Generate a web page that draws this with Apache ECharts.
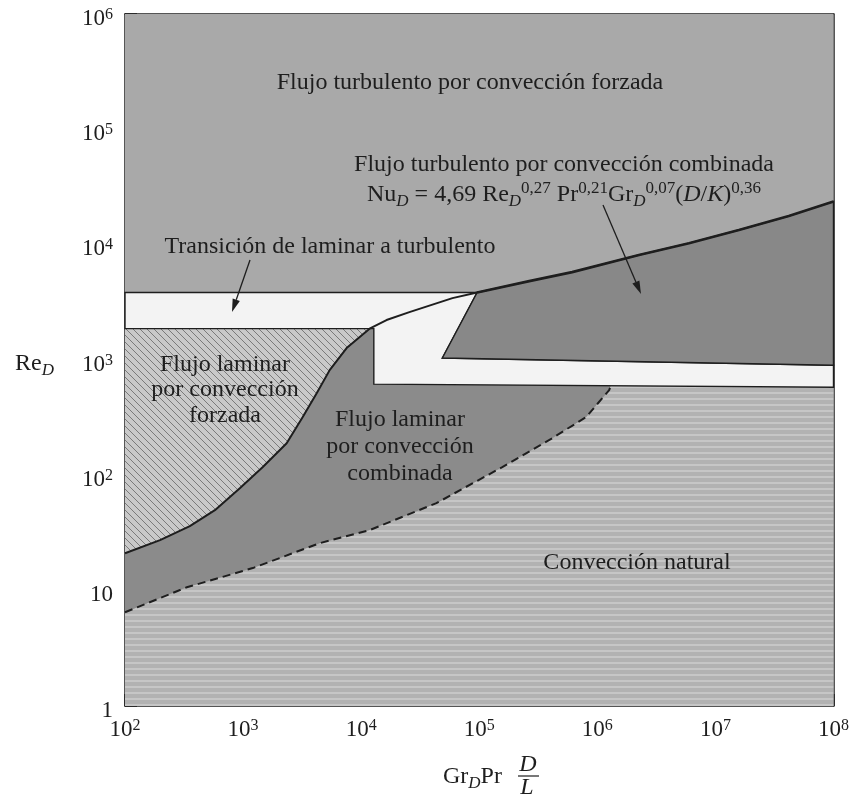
<!DOCTYPE html>
<html>
<head>
<meta charset="utf-8">
<script src="https://cdn.jsdelivr.net/npm/echarts@6/dist/echarts.min.js"></script>
<style>
  html, body { margin: 0; padding: 0; background: #fff; }
  #chart { width: 852px; height: 809px; }
</style>
</head>
<body>
<div id="chart"></div>
<script>
// boundaries, as [Gr_D Pr D/L, Re_D]
const laminarCurve = [[100, 21.1], [198, 27.4], [354, 36.3], [577, 49.9], [938, 77.4], [1469, 118],
  [2339, 190], [3200, 320], [4200, 516], [5410, 817], [7530, 1268], [11780, 1870]]
const transitionCurve = [[11780, 1870], [16400, 2220], [25600, 2600], [59300, 3440], [96000, 3850]]
const turbulentCurve = [[96000, 3850], [265000, 4830], [612000, 5780], [2.25e6, 8130], [5.97e6, 10300],
  [1.58e7, 13400], [4.18e7, 17700], [1e8, 23700]]
const naturalCurve = [[100, 6.5], [334, 10.7], [1208, 15.7], [4450, 25.8], [11780, 33.5], [43400, 57.4],
  [156700, 118], [415000, 210], [804000, 320], [1.26e6, 548], [1.3e6, 600]]
const bandTop = [[100, 3850], [96000, 3850]]
const turbulentBottom = [[48700, 1040], [1e8, 900]]
const bandBottom = [[1e8, 580], [12800, 618]]
const bandStep = [[12800, 618], [12800, 1870], [100, 1870]]
const plotCorners = [[100, 1], [1e8, 1], [1e8, 1e6], [100, 1e6]]

const serif = "'Liberation Serif', 'DejaVu Serif', serif"
const ink = '#1e1e1e'

// textures
function hatchTile () {
  const s = 7
  const c = document.createElement('canvas')
  c.width = s; c.height = s
  const g = c.getContext('2d')
  g.fillStyle = '#c9c9c9'
  g.fillRect(0, 0, s, s)
  g.strokeStyle = '#7a7a7a'
  g.lineWidth = 1
  g.beginPath()
  g.moveTo(-1, -1); g.lineTo(s + 1, s + 1)
  g.moveTo(s - 1, -1); g.lineTo(s + 1, 1)
  g.moveTo(-1, s - 1); g.lineTo(1, s + 1)
  g.stroke()
  return c
}
function stripeTile () {
  const c = document.createElement('canvas')
  c.width = 24; c.height = 6
  const g = c.getContext('2d')
  g.fillStyle = '#b2b2b2'
  g.fillRect(0, 0, 24, 6)
  g.fillStyle = '#c6c6c6'
  g.fillRect(0, 2, 24, 2)
  return c
}

const rev = a => a.slice().reverse()
const regions = [
  { pts: plotCorners, fill: '#a9a9a9' },
  { pts: [[100, 1], [1e8, 1], bandBottom[0], ...rev(naturalCurve)], fill: { image: stripeTile(), repeat: 'repeat' } },
  { pts: [...laminarCurve, [100, 1870]], fill: { image: hatchTile(), repeat: 'repeat' } },
  { pts: [...laminarCurve, [12800, 1870], [12800, 618], ...rev(naturalCurve)], fill: '#8b8b8b' },
  { pts: [...bandTop, ...turbulentBottom, ...bandBottom, ...bandStep.slice(1)], fill: '#f3f3f3', stroke: ink, lw: 1.4 },
  { pts: [...turbulentCurve, ...rev(turbulentBottom)], fill: '#888888', stroke: ink, lw: 1.4 }
]

const tickRich = {
  b: { fontSize: 23, fontFamily: serif, color: ink, lineHeight: 24 },
  s: { fontSize: 16, fontFamily: serif, color: ink, lineHeight: 17, verticalAlign: 'top' }
}
const pow = v => Math.round(Math.log10(v))

const rich = {
  n: { fontSize: 24, fontFamily: serif, fill: ink, color: ink, lineHeight: 30 },
  it: { fontSize: 24, fontFamily: serif, fontStyle: 'italic', fill: ink, color: ink, lineHeight: 30 },
  sub: { fontSize: 17, fontFamily: serif, fontStyle: 'italic', fill: ink, color: ink, lineHeight: 18, verticalAlign: 'bottom' },
  sup: { fontSize: 17, fontFamily: serif, fill: ink, color: ink, lineHeight: 16, verticalAlign: 'top' }
}

function label (x, y, text, align) {
  return {
    type: 'text', x, y, silent: true, z: 100,
    style: {
      text, rich, fill: ink, font: '24px ' + serif,
      align: align || 'center', verticalAlign: 'middle',
      textAlign: align || 'center', textVerticalAlign: 'middle'
    }
  }
}

function arrow (x1, y1, x2, y2) {
  const dx = x2 - x1, dy = y2 - y1
  const len = Math.sqrt(dx * dx + dy * dy)
  const ux = dx / len, uy = dy / len
  const bx = x2 - 13 * ux, by = y2 - 13 * uy
  return [
    { type: 'line', silent: true, z: 100, shape: { x1, y1, x2: bx, y2: by }, style: { stroke: ink, lineWidth: 1.3 } },
    { type: 'polygon', silent: true, z: 100,
      shape: { points: [[x2, y2], [bx + 3.8 * uy, by - 3.8 * ux], [bx - 3.8 * uy, by + 3.8 * ux]] },
      style: { fill: ink } }
  ]
}

const chart = echarts.init(document.getElementById('chart'))

chart.setOption({
  animation: false,
  grid: { left: 125, right: 17, top: 14, bottom: 103 },
  xAxis: [{
    type: 'log', logBase: 10, min: 100, max: 1e8,
    axisLine: { show: true, lineStyle: { color: ink, width: 1.5 } },
    axisTick: { show: true, inside: true, length: 12, lineStyle: { color: ink, width: 1.5 } },
    splitLine: { show: false },
    axisLabel: { margin: 12, formatter: v => '{b|10}{s|' + pow(v) + '}', rich: tickRich }
  }, {
    type: 'log', logBase: 10, min: 100, max: 1e8, position: 'top',
    axisLine: { show: true, onZero: false, lineStyle: { color: ink, width: 1.5 } },
    axisTick: { show: false }, axisLabel: { show: false }, splitLine: { show: false }
  }],
  yAxis: [{
    type: 'log', logBase: 10, min: 1, max: 1e6,
    axisLine: { show: true, lineStyle: { color: ink, width: 1.5 } },
    axisTick: { show: true, inside: true, length: 12, lineStyle: { color: ink, width: 1.5 } },
    splitLine: { show: false },
    axisLabel: {
      margin: 12,
      padding: [9, 0, 0, 0],
      formatter: v => {
        const e = pow(v)
        if (e === 0) return '{b|1}'
        if (e === 1) return '{b|10}'
        return '{b|10}{s|' + e + '}'
      },
      rich: tickRich
    }
  }, {
    type: 'log', logBase: 10, min: 1, max: 1e6, position: 'right',
    axisLine: { show: true, onZero: false, lineStyle: { color: ink, width: 1.5 } },
    axisTick: { show: false }, axisLabel: { show: false }, splitLine: { show: false }
  }],
  series: [
    {
      type: 'custom',
      silent: true,
      data: regions.map(r => r.pts[0]),
      renderItem: (params, api) => {
        const r = regions[params.dataIndex]
        return {
          type: 'polygon',
          shape: { points: r.pts.map(p => api.coord(p)) },
          style: { fill: r.fill, stroke: r.stroke || null, lineWidth: r.lw || 0 }
        }
      }
    },
    {
      type: 'line', data: [...laminarCurve, ...transitionCurve.slice(1)], showSymbol: false, silent: true,
      lineStyle: { color: ink, width: 2 }
    },
    {
      type: 'line', data: turbulentCurve, showSymbol: false, silent: true,
      lineStyle: { color: ink, width: 2.6 }
    },
    {
      type: 'line', data: naturalCurve, showSymbol: false, silent: true,
      lineStyle: { color: ink, width: 2, type: [8, 5] }
    }
  ],
  graphic: [
    label(470, 83, 'Flujo turbulento por convección forzada'),
    label(564, 165, 'Flujo turbulento por convección combinada'),
    label(564, 195, '{n|Nu}{sub|D}{n| = 4,69 Re}{sub|D}{sup|0,27}{n| Pr}{sup|0,21}{n|Gr}{sub|D}{sup|0,07}{n|(}{it|D}{n|/}{it|K}{n|)}{sup|0,36}'),
    label(330, 247, 'Transición de laminar a turbulento'),
    label(225, 365, 'Flujo laminar'),
    label(225, 390, 'por convección'),
    label(225, 416, 'forzada'),
    label(400, 420, 'Flujo laminar'),
    label(400, 447, 'por convección'),
    label(400, 474, 'combinada'),
    label(637, 563, 'Convección natural'),
    ...arrow(250, 260, 232, 312),
    ...arrow(603, 205, 641, 294),
    label(15, 364, '{n|Re}{sub|D}', 'left'),
    label(443, 777, '{n|Gr}{sub|D}{n|Pr}', 'left'),
    label(528, 765, '{it|D}'),
    { type: 'line', silent: true, shape: { x1: 518, y1: 776, x2: 539, y2: 776 }, style: { stroke: ink, lineWidth: 1.2 } },
    label(527, 788, '{it|L}')
  ]
})
</script>
</body>
</html>
